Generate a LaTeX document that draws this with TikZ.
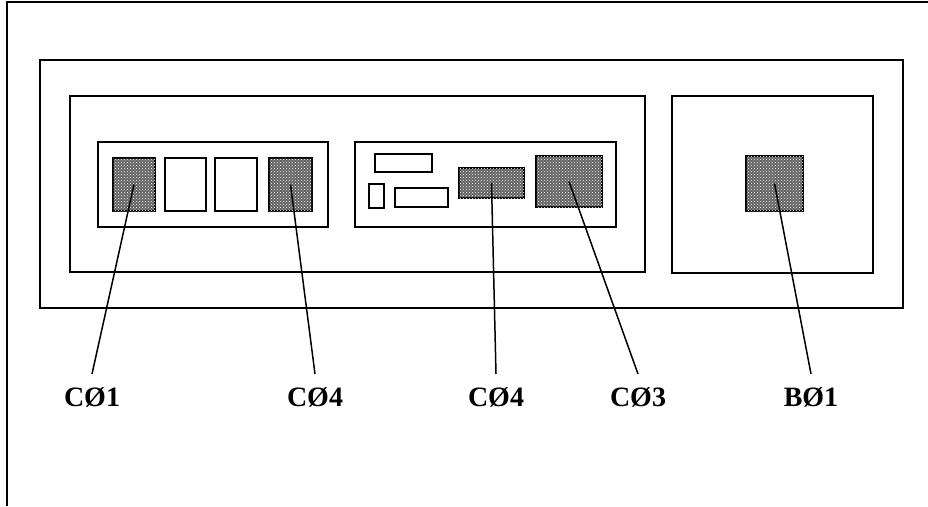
\documentclass[tikz,border=0pt]{standalone}
\usepackage{fontspec}
\setmainfont{Liberation Serif}
\usetikzlibrary{patterns}
\tikzset{
  box/.style={draw, line width=1.6pt},
  hatched/.style={draw, line width=1.6pt, fill=black!62, postaction={pattern=crosshatch dots, pattern color=white}, inner sep=0pt},
  lead/.style={line width=1.5pt},
  tag/.style={font=\fontsize{28}{30}\selectfont\bfseries, anchor=base, inner sep=1pt, outer sep=12pt}
}
\begin{document}
\begin{tikzpicture}[x=1pt, y=-1pt]
  \useasboundingbox (0,0) rectangle (928,506);
  % frame: only top and left edges show
  \draw[box] (7,506) -- (7,2) -- (928,2);
  \draw[box] (40,60) rectangle (903,308);
  \draw[box] (70,96) rectangle (645,272);
  \draw[box] (672,96) rectangle (873,273);
  % left group
  \draw[box] (98,142) rectangle (328,227);
  \node[hatched, minimum width=42pt, minimum height=53pt] (c01) at (134,184.5) {};
  \draw[box] (165,158) rectangle (206,211);
  \draw[box] (215,158) rectangle (257,211);
  \node[hatched, minimum width=43pt, minimum height=53pt] (c04a) at (290.5,184.5) {};
  % middle group
  \draw[box] (355,142) rectangle (616,227);
  \draw[box] (375,154) rectangle (432,172);
  \draw[box] (369,184) rectangle (384,208);
  \draw[box] (395,188) rectangle (448,207);
  \node[hatched, minimum width=65pt, minimum height=30pt] (c04b) at (491.5,183) {};
  \node[hatched, minimum width=66pt, minimum height=51pt] (c03) at (569,181.5) {};
  % right group
  \node[hatched, minimum width=57pt, minimum height=55pt] (b01) at (774.5,183.5) {};
  % labels
  \node[tag] (c01lbl) at (92,406) {CØ1};
  \node[tag] (c04albl) at (315,406) {CØ4};
  \node[tag] (c04blbl) at (496,406) {CØ4};
  \node[tag] (c03lbl) at (638,406) {CØ3};
  \node[tag] (b01lbl) at (811,406) {BØ1};
  \draw[lead] (c01.center) -- (c01lbl.north);
  \draw[lead] (c04a.center) -- (c04albl.north);
  \draw[lead] (c04b.center) -- (c04blbl.north);
  \draw[lead] (c03.center) -- (c03lbl.north);
  \draw[lead] (b01.center) -- (b01lbl.north);
\end{tikzpicture}
\end{document}
